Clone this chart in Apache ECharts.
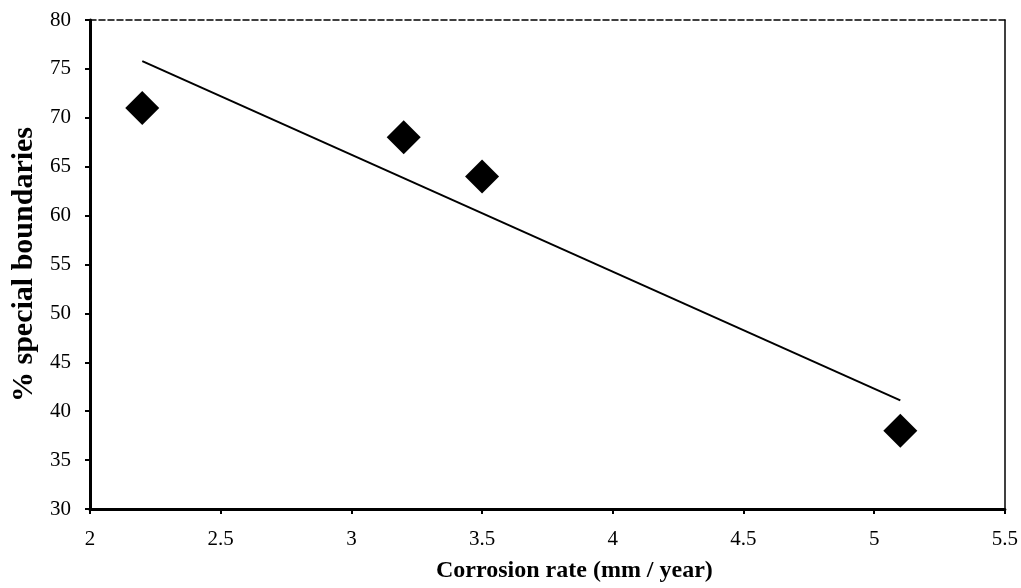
<!DOCTYPE html>
<html><head><meta charset="utf-8">
<script src="https://cdn.jsdelivr.net/npm/echarts@6/dist/echarts.min.js"></script>
<style>html,body{margin:0;padding:0;background:#fff}#c{width:1021px;height:588px}</style>
</head><body><div id="c"></div>
<script>
const corrosionRate = [2.2, 3.2, 3.5, 5.1];
const specialBoundaries = [71, 68, 64, 38];
const trendX = [2.2, 5.1];
const trendY = [75.8, 41.1];
const xTitle = 'Corrosion rate (mm / year)';
const yTitle = '% special boundaries';

const font = '"Liberation Serif", "Times New Roman", serif';
const chart = echarts.init(document.getElementById('c'));
chart.setOption({
  animation: false,
  backgroundColor: '#fff',
  grid: { left: 90, right: 11, top: 20, bottom: 79 },
  xAxis: [{
    type: 'value', min: 2, max: 5.5, interval: 0.5,
    name: xTitle, nameLocation: 'middle', nameGap: 50,
    nameTextStyle: { fontFamily: font, fontWeight: 'bold', fontSize: 24, color: '#000', padding: [0, 0, 0, 54] },
    axisLine: { lineStyle: { color: '#000', width: 3 } },
    axisTick: { show: true, length: 5, lineStyle: { color: '#000', width: 2 } },
    axisLabel: { fontFamily: font, fontSize: 21, color: '#000', margin: 20 },
    splitLine: { show: false }
  }, {
    type: 'value', position: 'top', min: 2, max: 5.5,
    axisLine: { show: true, onZero: false, lineStyle: { color: '#000', width: 1.5, type: 'dashed' } },
    axisTick: { show: false }, axisLabel: { show: false }, splitLine: { show: false }
  }],
  yAxis: [{
    type: 'value', min: 30, max: 80, interval: 5,
    name: yTitle, nameLocation: 'middle', nameGap: 50, nameRotate: 90,
    nameTextStyle: { fontFamily: font, fontWeight: 'bold', fontSize: 30, color: '#000' },
    axisLine: { show: true, lineStyle: { color: '#000', width: 3 } },
    axisTick: { show: true, length: 5, lineStyle: { color: '#000', width: 2 } },
    axisLabel: { fontFamily: font, fontSize: 21, color: '#000', margin: 19 },
    splitLine: { show: false }
  }, {
    type: 'value', position: 'right', min: 30, max: 80,
    axisLine: { show: true, onZero: false, lineStyle: { color: '#000', width: 1.5 } },
    axisTick: { show: false }, axisLabel: { show: false }, splitLine: { show: false }
  }],
  series: [{
    type: 'line',
    data: trendX.map((x, i) => [x, trendY[i]]),
    showSymbol: false, symbol: 'none',
    lineStyle: { color: '#000', width: 2 },
    silent: true
  }, {
    type: 'scatter',
    data: corrosionRate.map((x, i) => [x, specialBoundaries[i]]),
    symbol: 'diamond', symbolSize: [34, 34],
    itemStyle: { color: '#000', opacity: 1 }
  }]
});
</script></body></html>
